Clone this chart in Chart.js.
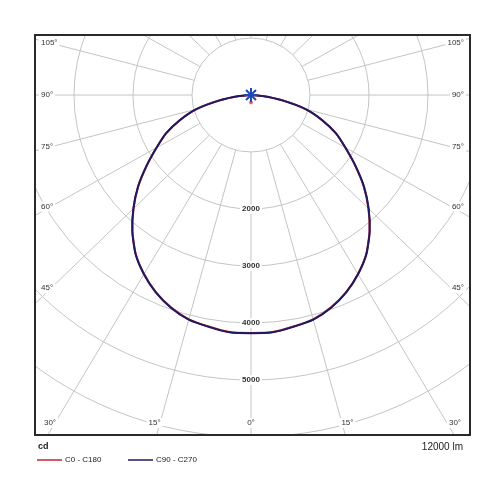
<!DOCTYPE html>
<html>
<head>
<meta charset="utf-8">
<script src="https://cdn.jsdelivr.net/npm/chart.js@4.4.1/dist/chart.umd.min.js"></script>
<style>
  html, body { margin: 0; padding: 0; background: #fff; }
  #wrap { width: 500px; height: 500px; }
</style>
</head>
<body>
<div id="wrap"><canvas id="polar"></canvas></div>
<script>
// gamma angles (deg from nadir) and luminous intensity (cd) per C-plane pair
var gammaAngles = [0, 5, 10, 15, 20, 25, 30, 35, 40, 45, 50, 55, 60, 65, 70, 75, 80, 85, 90];
var intensityC0C180 = [4175, 4175, 4125, 4075, 3965, 3815, 3625, 3405, 3125, 2815, 2495, 2155, 1845, 1585, 1275, 955, 535, 195, 0];
var intensityC90C270 = [4180, 4180, 4130, 4080, 3970, 3820, 3630, 3410, 3130, 2820, 2500, 2160, 1850, 1590, 1280, 960, 540, 200, 0];
var planeLabels = ["C0 - C180", "C90 - C270"];
var planeColors = ["#c4282c", "#1c1a62"];
var ringValues = [1000, 2000, 3000, 4000, 5000, 6000, 7000];
var ringLabels = ["2000", "3000", "4000", "5000"];
var angleLabels = [0, 15, 30, 45, 60, 75, 90, 105];
var unitLabel = "cd";
var fluxLabel = "12000 lm";

// builds the outline: left half (C180 / C270) then right half (C0 / C90)
function to_points(values) {
  var pts = [];
  for (var i = gammaAngles.length - 1; i >= 0; i--) {
    var a = gammaAngles[i] * Math.PI / 180;
    pts.push({ x: -values[i] * Math.sin(a), y: -values[i] * Math.cos(a) });
  }
  for (var j = 1; j < gammaAngles.length; j++) {
    var b = gammaAngles[j] * Math.PI / 180;
    pts.push({ x: values[j] * Math.sin(b), y: -values[j] * Math.cos(b) });
  }
  return pts;
}

function label_box(ctx, text, x, y, align) {
  var w = ctx.measureText(text).width;
  var left = align == "left" ? x : (align == "right" ? x - w : x - w / 2);
  ctx.fillStyle = "#fff";
  ctx.fillRect(left - 2, y - 5, w + 4, 10);
  ctx.fillStyle = "#333";
  ctx.textAlign = align;
  ctx.fillText(text, x, y);
}

/* polar grid drawn under the curves */
var polarGrid = {
  id: "polarGrid",
  beforeDatasetsDraw: function (chart) {
    var ctx = chart.ctx;
    var area = chart.chartArea;
    var xs = chart.scales.x;
    var ys = chart.scales.y;
    var cx = xs.getPixelForValue(0);
    var cy = ys.getPixelForValue(0);
    var kx = xs.getPixelForValue(1000) - cx;
    var ky = ys.getPixelForValue(-1000) - cy;

    ctx.save();
    ctx.beginPath();
    ctx.rect(area.left, area.top, area.right - area.left, area.bottom - area.top);
    ctx.clip();
    ctx.strokeStyle = "#c4c4c4";
    ctx.lineWidth = 1;
    ringValues.forEach(function (r) {
      ctx.beginPath();
      ctx.ellipse(cx, cy, kx * r / 1000, ky * r / 1000, 0, 0, Math.PI * 2);
      ctx.stroke();
    });
    for (var a = 0; a < 360; a += 15) {
      var rad = a * Math.PI / 180;
      var sx = Math.sin(rad), sy = Math.cos(rad);
      ctx.beginPath();
      ctx.moveTo(cx + kx * sx, cy + ky * sy);
      ctx.lineTo(cx + kx * sx * 9, cy + ky * sy * 9);
      ctx.stroke();
    }

    ctx.font = "bold 8px 'Liberation Sans', Arial, sans-serif";
    ctx.textBaseline = "middle";
    ringLabels.forEach(function (t) {
      label_box(ctx, t, cx, cy + ky * Number(t) / 1000, "center");
    });

    // angle labels where each ray meets the inner edge of the frame
    ctx.font = "8px 'Liberation Sans', Arial, sans-serif";
    var sideX = 200;
    var bottomY = area.bottom - 12;
    angleLabels.forEach(function (g) {
      [-1, 1].forEach(function (side) {
        if (g == 0 && side == 1) return;
        var rad = g * Math.PI / 180;
        var dx = Math.sin(rad) * kx;
        var dy = Math.cos(rad) * ky;
        var tSide = sideX / dx;
        var tBottom = dy > 0 ? (bottomY - cy) / dy : Infinity;
        var txt = g + "\u00b0";
        if (tBottom < tSide) {
          var bx = cx + side * dx * tBottom * 1.06;
          bx = Math.max(area.left + 15, Math.min(area.right - 15, bx));
          label_box(ctx, txt, bx, bottomY, "center");
        } else {
          var py = cy + dy * tSide;
          if (side < 0) label_box(ctx, txt, area.left + 6, py, "left");
          else label_box(ctx, txt, area.right - 6, py, "right");
        }
      });
    });
    ctx.restore();
  },
  afterDraw: function (chart) {
    var ctx = chart.ctx;
    var area = chart.chartArea;
    ctx.save();
    ctx.strokeStyle = "#2a2a2a";
    ctx.lineWidth = 2;
    ctx.strokeRect(area.left, area.top, area.right - area.left, area.bottom - area.top);

    ctx.fillStyle = "#222";
    ctx.textBaseline = "middle";
    ctx.font = "bold 9px 'Liberation Sans', Arial, sans-serif";
    ctx.textAlign = "left";
    ctx.fillText(unitLabel, area.left + 3, area.bottom + 12);
    ctx.font = "10px 'Liberation Sans', Arial, sans-serif";
    ctx.textAlign = "right";
    ctx.fillText(fluxLabel, area.right - 7, area.bottom + 12);

    // legend
    ctx.font = "8px 'Liberation Sans', Arial, sans-serif";
    ctx.textAlign = "left";
    var lx = area.left + 2;
    for (var i = 0; i < planeLabels.length; i++) {
      ctx.strokeStyle = planeColors[i];
      ctx.lineWidth = 1.5;
      ctx.beginPath();
      ctx.moveTo(lx, area.bottom + 25);
      ctx.lineTo(lx + 25, area.bottom + 25);
      ctx.stroke();
      ctx.fillStyle = "#222";
      ctx.fillText(planeLabels[i], lx + 28, area.bottom + 25);
      lx += 91;
    }
    ctx.restore();
  }
};

new Chart(document.getElementById("polar"), {
  type: "scatter",
  data: {
    datasets: [
      {
        label: "luminaire",
        data: [{ x: 0, y: 0 }],
        pointStyle: "star",
        pointRadius: 7,
        borderWidth: 2,
        borderColor: "#1f48b0",
        backgroundColor: "#1f48b0",
        order: 0,
      },
      {
        label: "source",
        data: [{ x: 0, y: -130 }],
        pointStyle: "circle",
        pointRadius: 1.5,
        backgroundColor: "#e06060",
        borderColor: "#e06060",
        order: 3,
      },
      {
        label: planeLabels[1],
        data: to_points(intensityC90C270),
        showLine: true,
        borderColor: planeColors[1],
        borderWidth: 2,
        pointRadius: 0,
        tension: 0.2,
        order: 1,
      },
      {
        label: planeLabels[0],
        data: to_points(intensityC0C180),
        showLine: true,
        borderColor: planeColors[0],
        borderWidth: 2,
        pointRadius: 0,
        tension: 0.2,
        order: 2,
      },
    ],
  },
  options: {
    responsive: true,
    maintainAspectRatio: false,
    animation: false,
    layout: { padding: { left: 35, right: 30, top: 35, bottom: 65 } },
    scales: {
      x: { display: false, min: -3661, max: 3712 },
      y: { display: false, min: -5965, max: 1053 },
    },
    plugins: {
      legend: { display: false },
      tooltip: { enabled: false },
    },
  },
  plugins: [polarGrid],
});
</script>
</body>
</html>
